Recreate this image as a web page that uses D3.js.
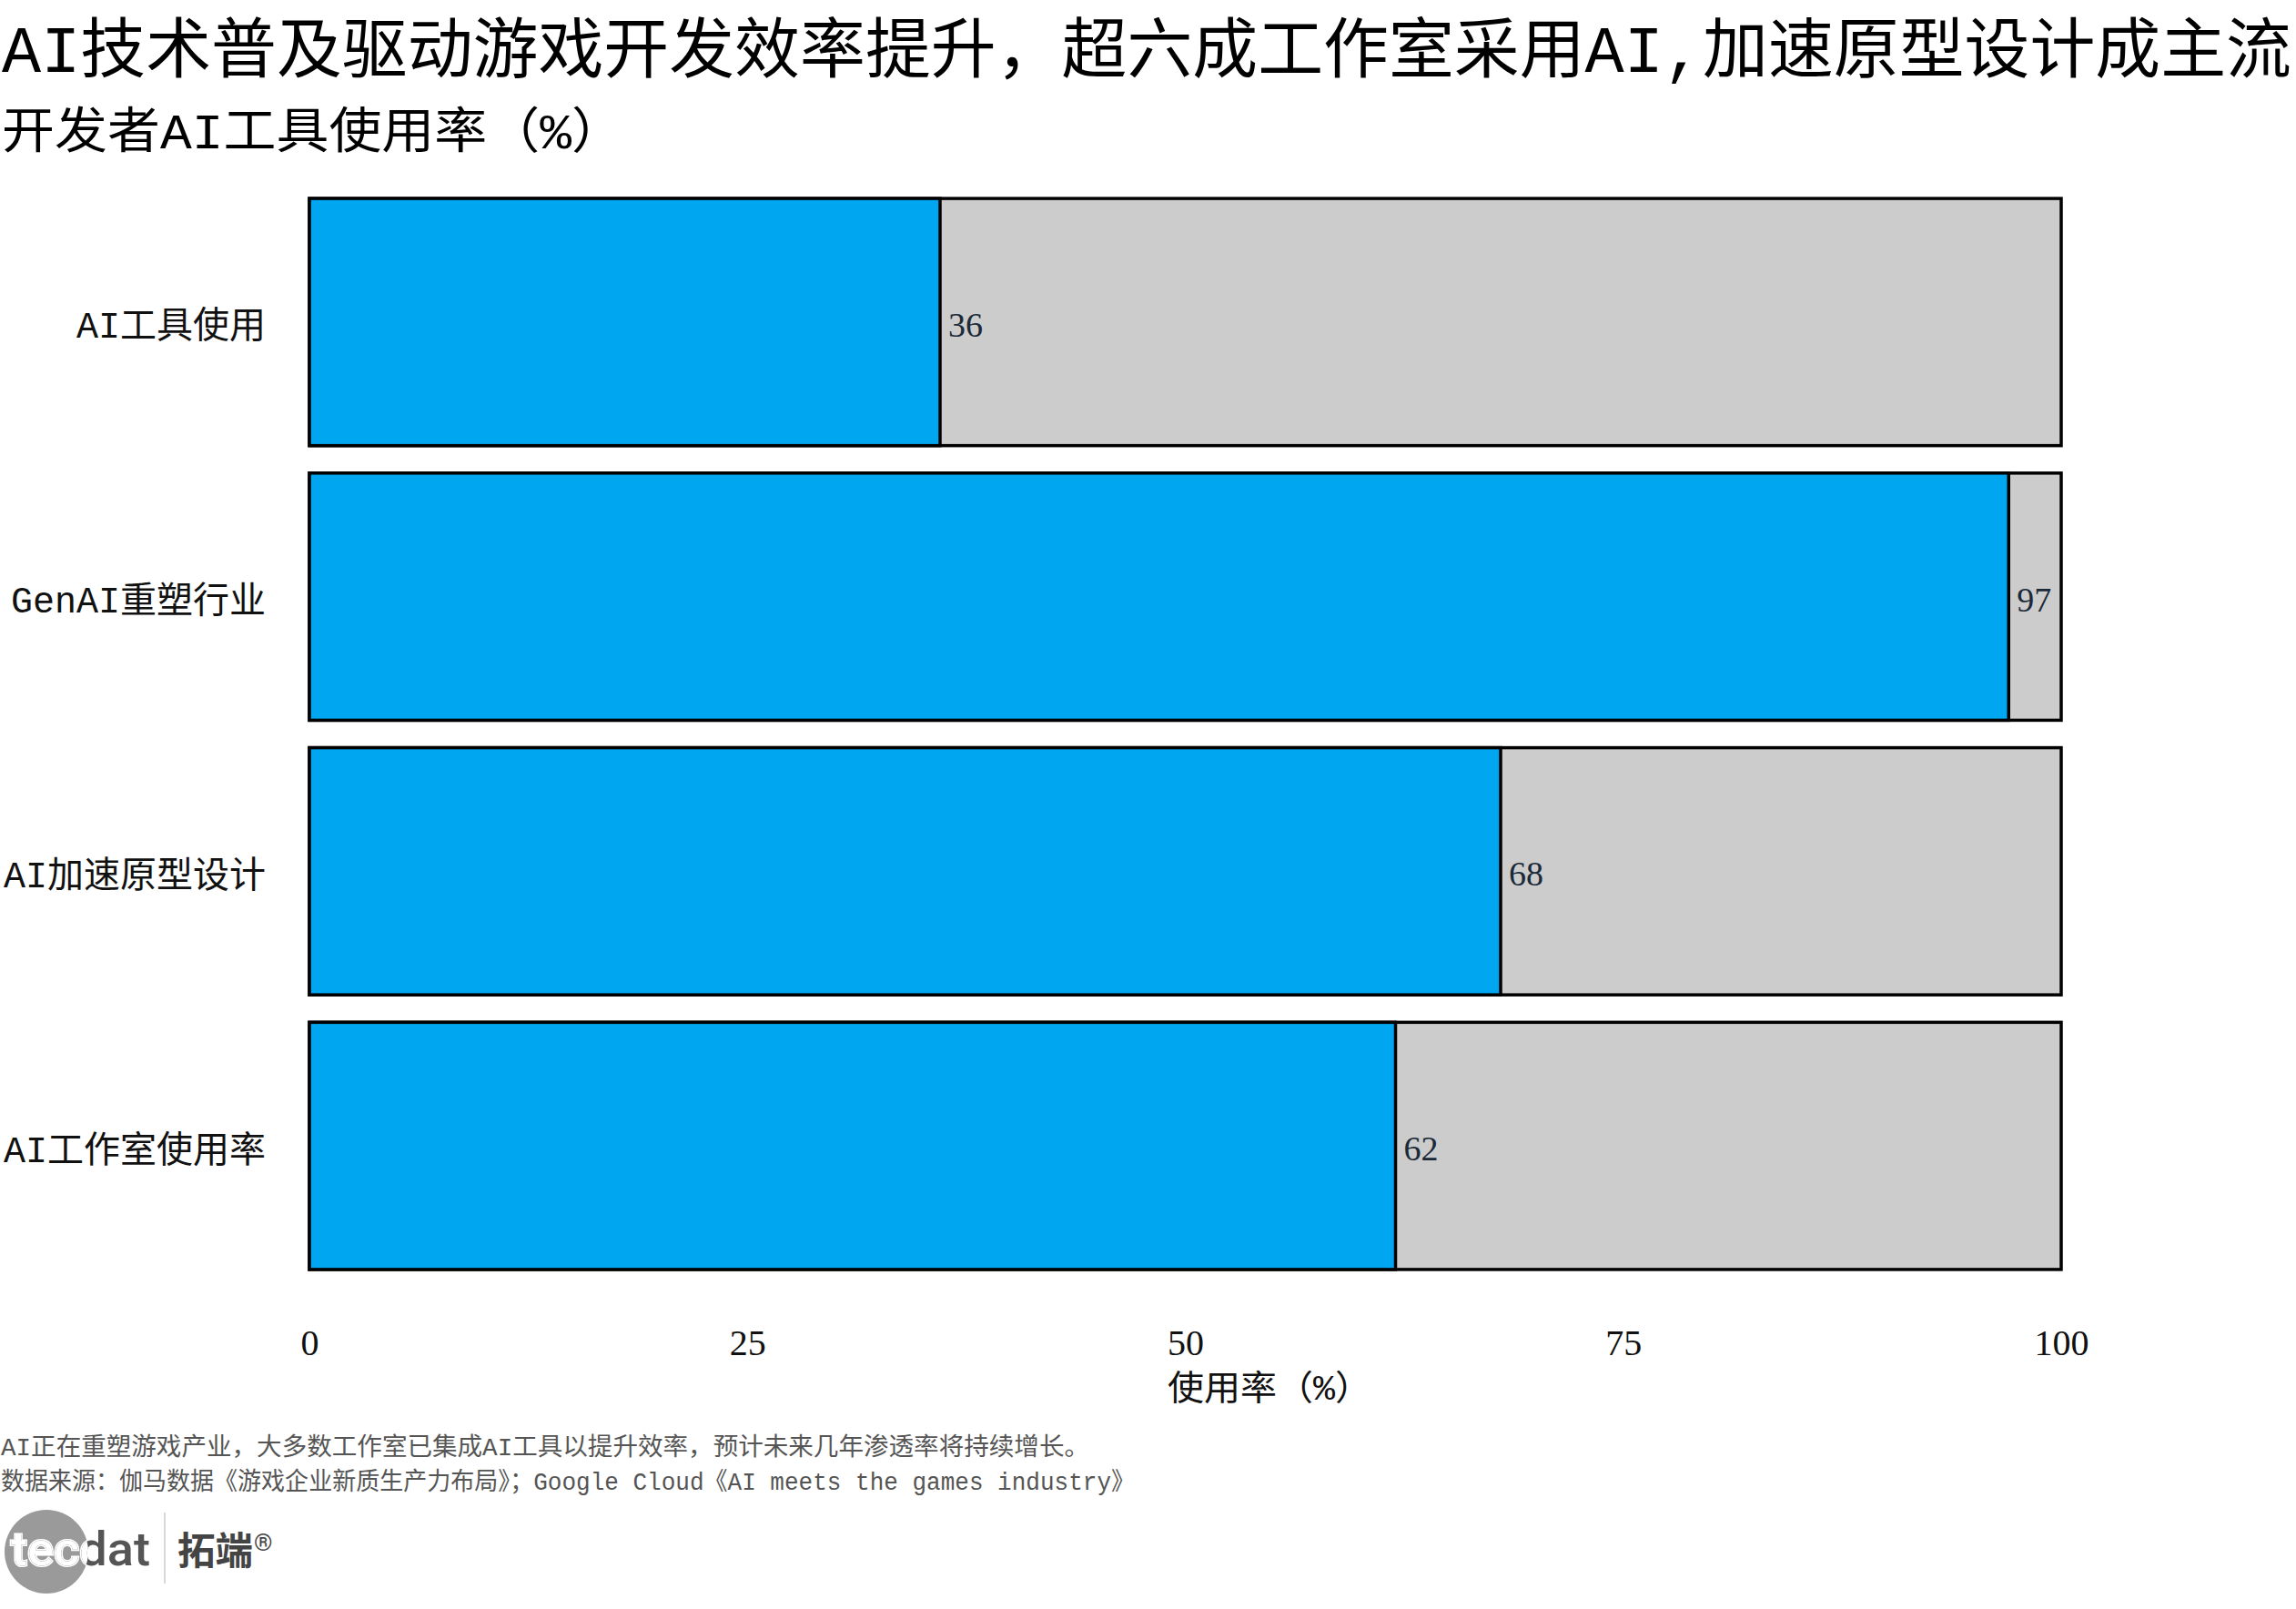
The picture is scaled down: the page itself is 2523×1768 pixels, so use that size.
<!DOCTYPE html>
<html>
<head>
<meta charset="utf-8">
<script src="https://cdn.jsdelivr.net/npm/d3@7"></script>
<style>
  html, body { margin: 0; padding: 0; background: #ffffff; }
  svg { display: block; }
</style>
</head>
<body>
<svg id="chart" width="2523" height="1768"></svg>
<script>
// ---------- data ----------
const categories = ["AI工具使用", "GenAI重塑行业", "AI加速原型设计", "AI工作室使用率"];
const values = [36, 97, 68, 62];
const totals = [100, 100, 100, 100];
const xTickValues = [0, 25, 50, 75, 100];

const titleText = "AI技术普及驱动游戏开发效率提升，超六成工作室采用AI,加速原型设计成主流";
const subtitleText = "开发者AI工具使用率（%）";
const xAxisTitle = "使用率（%）";
const noteText = "AI正在重塑游戏产业，大多数工作室已集成AI工具以提升效率，预计未来几年渗透率将持续增长。";
const sourceText = "数据来源：伽马数据《游戏企业新质生产力布局》；Google Cloud《AI meets the games industry》";

// ---------- setup ----------
const W = 2523, H = 1768;
const svg = d3.select("#chart");
const cjk = '"Liberation Mono", "Noto Sans CJK SC", sans-serif';
const serif = '"Liberation Serif", "DejaVu Serif", serif';

const x = d3.scaleLinear().domain([0, 100]).range([340, 2265]);
const y = d3.scaleBand().domain(categories).range([203, 1410]).paddingInner(0.1).paddingOuter(0.05);

const rows = categories.map((c, i) => ({ cat: c, v: values[i], t: totals[i] }));

// ---------- titles ----------
svg.append("text")
  .attr("x", 2).attr("y", 60)
  .attr("dominant-baseline", "central")
  .attr("font-family", cjk).attr("font-size", 72)
  .attr("textLength", 2516).attr("lengthAdjust", "spacingAndGlyphs")
  .attr("fill", "#000")
  .text(titleText);

svg.append("text")
  .attr("x", 2).attr("y", 148)
  .attr("dominant-baseline", "central")
  .attr("font-family", cjk).attr("font-size", 54)
  .attr("textLength", 684).attr("lengthAdjust", "spacingAndGlyphs")
  .attr("fill", "#000")
  .text(subtitleText);

// ---------- bars ----------
const g = svg.append("g");

g.selectAll("rect.bg").data(rows).enter().append("rect")
  .attr("class", "bg")
  .attr("x", d => x(0))
  .attr("y", d => y(d.cat))
  .attr("width", d => x(d.t) - x(0))
  .attr("height", y.bandwidth())
  .attr("fill", "#cccccc")
  .attr("stroke", "#000").attr("stroke-width", 3.5);

g.selectAll("rect.fg").data(rows).enter().append("rect")
  .attr("class", "fg")
  .attr("x", d => x(0))
  .attr("y", d => y(d.cat))
  .attr("width", d => x(d.v) - x(0))
  .attr("height", y.bandwidth())
  .attr("fill", "#00a6f0")
  .attr("stroke", "#000").attr("stroke-width", 3.5);

// value labels
g.selectAll("text.val").data(rows).enter().append("text")
  .attr("class", "val")
  .attr("x", d => x(d.v) + 9)
  .attr("y", d => y(d.cat) + y.bandwidth() / 2 + 3)
  .attr("dominant-baseline", "central")
  .attr("font-family", serif).attr("font-size", 38)
  .attr("fill", "#1b2a38")
  .text(d => d.v);

// category labels
g.selectAll("text.cat").data(rows).enter().append("text")
  .attr("class", "cat")
  .attr("x", 292)
  .attr("y", d => y(d.cat) + y.bandwidth() / 2 + 7)
  .attr("text-anchor", "end")
  .attr("dominant-baseline", "central")
  .attr("font-family", cjk).attr("font-size", 40)
  .attr("fill", "#111")
  .text(d => d.cat);

// ---------- x axis (labels only) ----------
const xAxis = d3.axisBottom(x).tickValues(xTickValues).tickSize(0).tickPadding(0).tickFormat(d3.format("d"));
const axG = svg.append("g").attr("transform", "translate(0,1475)").call(xAxis);
axG.select(".domain").remove();
axG.selectAll("text")
  .attr("font-family", serif).attr("font-size", 40)
  .attr("fill", "#111")
  .attr("dy", 0).attr("y", 0)
  .attr("dominant-baseline", "central");

svg.append("text")
  .attr("x", 1283).attr("y", 1527)
  .attr("dominant-baseline", "central")
  .attr("font-family", cjk).attr("font-size", 38)
  .attr("textLength", 224).attr("lengthAdjust", "spacingAndGlyphs")
  .attr("fill", "#111")
  .text(xAxisTitle);

// ---------- footer ----------
svg.append("text")
  .attr("x", 1).attr("y", 1592)
  .attr("dominant-baseline", "central")
  .attr("font-family", cjk).attr("font-size", 27)
  .attr("textLength", 1196).attr("lengthAdjust", "spacingAndGlyphs")
  .attr("fill", "#555")
  .text(noteText);

svg.append("text")
  .attr("x", 1).attr("y", 1630)
  .attr("dominant-baseline", "central")
  .attr("font-family", cjk).attr("font-size", 27)
  .attr("textLength", 1246).attr("lengthAdjust", "spacingAndGlyphs")
  .attr("fill", "#555")
  .text(sourceText);

// ---------- logo ----------
const logo = svg.append("g");
logo.append("clipPath").attr("id", "logoClip")
  .append("circle").attr("cx", 51).attr("cy", 1705).attr("r", 46);
logo.append("circle").attr("cx", 51).attr("cy", 1705).attr("r", 46).attr("fill", "#9a9a9a");
logo.append("text")
  .attr("x", 12).attr("y", 1720)
  .attr("font-family", "Roboto, sans-serif").attr("font-size", 52).attr("font-weight", 500)
  .attr("textLength", 153).attr("lengthAdjust", "spacingAndGlyphs")
  .attr("fill", "#555555")
  .attr("stroke", "#ffffff").attr("stroke-width", 3).attr("paint-order", "stroke")
  .text("tecdat");
logo.append("text")
  .attr("x", 12).attr("y", 1720)
  .attr("font-family", "Roboto, sans-serif").attr("font-size", 52).attr("font-weight", 500)
  .attr("textLength", 153).attr("lengthAdjust", "spacingAndGlyphs")
  .attr("fill", "#ffffff")
  .attr("clip-path", "url(#logoClip)")
  .text("tecdat");
logo.append("line")
  .attr("x1", 181).attr("x2", 181).attr("y1", 1662).attr("y2", 1740)
  .attr("stroke", "#d8d8d8").attr("stroke-width", 2);
logo.append("text")
  .attr("x", 195).attr("y", 1719)
  .attr("font-family", '"Noto Sans CJK SC", sans-serif').attr("font-weight", 700)
  .attr("font-size", 42)
  .attr("textLength", 83).attr("lengthAdjust", "spacingAndGlyphs")
  .attr("fill", "#444")
  .text("拓端");
logo.append("text")
  .attr("x", 279).attr("y", 1704)
  .attr("font-family", "Roboto, sans-serif").attr("font-size", 26)
  .attr("fill", "#444")
  .text("®");
</script>
</body>
</html>
